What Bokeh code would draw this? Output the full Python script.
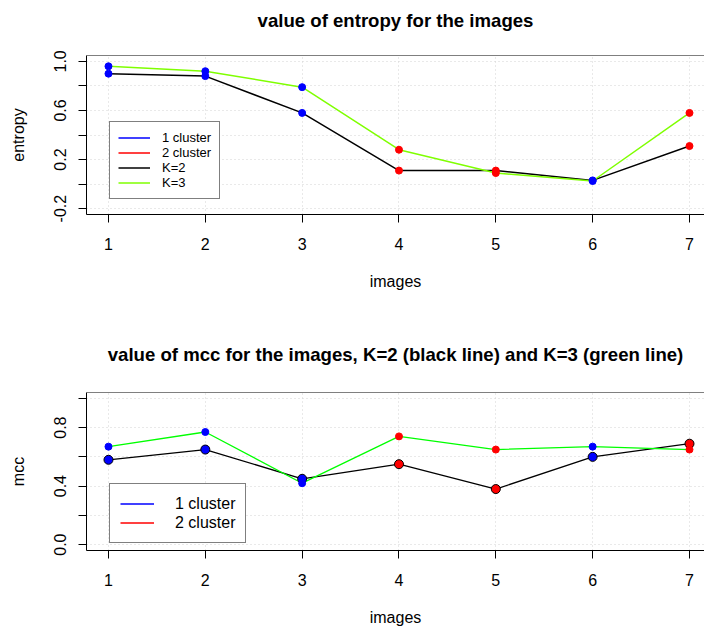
from bokeh.plotting import figure
from bokeh.layouts import column
from bokeh.models import (Range1d, FixedTicker, PrintfTickFormatter, Span,
                          Legend, LegendItem, ColumnDataSource, Title)
from bokeh.embed import file_html
from bokeh.resources import INLINE

# ---- data -------------------------------------------------------------
images = [1, 2, 3, 4, 5, 6, 7]
n_clusters = [1, 1, 1, 2, 2, 1, 2]

entropy_k2 = [0.90, 0.88, 0.58, 0.11, 0.11, 0.03, 0.31]
entropy_k3 = [0.96, 0.92, 0.79, 0.28, 0.09, 0.025, 0.58]

mcc_k2 = [0.58, 0.65, 0.45, 0.55, 0.38, 0.60, 0.69]
mcc_k3 = [0.67, 0.77, 0.42, 0.74, 0.65, 0.67, 0.65]

cluster_colors = {1: "#0000FF", 2: "#FF0000"}
point_colors = [cluster_colors[c] for c in n_clusters]

FONT = "Liberation Sans"
GRID = "#D3D3D3"
NAN = float("nan")


def style_axes(p, y_major, y_minor):
    p.xaxis.ticker = FixedTicker(ticks=images)
    p.yaxis.ticker = FixedTicker(ticks=y_major, minor_ticks=y_minor)
    p.yaxis.formatter = PrintfTickFormatter(format="%.1f")
    for ax in (p.xaxis, p.yaxis):
        ax.axis_line_color = "black"
        ax.axis_line_width = 1
        ax.major_tick_line_color = "black"
        ax.major_tick_out = 8
        ax.major_tick_in = 0
        ax.minor_tick_line_color = "black"
        ax.minor_tick_out = 8
        ax.minor_tick_in = 0
        ax.major_label_text_font = FONT
        ax.major_label_text_font_size = "16px"
        ax.major_label_text_color = "black"
        ax.axis_label_text_font = FONT
        ax.axis_label_text_font_size = "16px"
        ax.axis_label_text_font_style = "normal"
        ax.axis_label_text_color = "black"
    p.xaxis.major_label_standoff = 15
    p.xaxis.axis_label_standoff = 20
    p.yaxis.major_label_orientation = "vertical"
    p.yaxis.major_label_standoff = 12
    p.yaxis.axis_label_standoff = 25
    for g in (p.xgrid, p.ygrid):
        g.grid_line_color = GRID
        g.grid_line_dash = "1 3"
        g.grid_line_width = 1
    p.ygrid.minor_grid_line_color = GRID
    p.ygrid.minor_grid_line_dash = "1 3"
    p.outline_line_color = None
    p.add_layout(Span(location=p.y_range.end, dimension="width",
                      line_color="black", line_width=1))


def style_title(p, gap):
    p.title.align = "center"
    p.title.offset = 3
    p.title.text_font = FONT
    p.title.text_font_size = "18.6px"
    p.title.text_font_style = "bold"
    p.title.text_color = "black"
    p.title.standoff = 0
    # blank band between the main title and the plot frame
    p.add_layout(Title(text=" ", text_font_size="1px", standoff=gap), "above")


def make_legend(p, items, loc, font_size, row_h, glyph_w, standoff, pad):
    leg = Legend(items=items, location=loc, orientation="vertical",
                 label_text_font=FONT, label_text_font_size=font_size,
                 label_text_color="black",
                 label_height=row_h, glyph_height=row_h, glyph_width=glyph_w,
                 label_standoff=standoff, padding=pad, spacing=0, margin=0,
                 border_line_color="black", border_line_width=1,
                 background_fill_color="white", background_fill_alpha=1)
    p.add_layout(leg)


# ---- top panel: entropy ----------------------------------------------
p1 = figure(width=704, height=314, output_backend="svg", toolbar_location=None,
            x_range=Range1d(0.773, 7.155), y_range=Range1d(-0.248, 1.048),
            title="value of entropy for the images",
            x_axis_label="images", y_axis_label="entropy",
            min_border_left=86, min_border_right=0,
            min_border_top=55, min_border_bottom=100)
style_axes(p1, [-0.2, 0.2, 0.6, 1.0], [0.0, 0.4, 0.8])
style_title(p1, 22)

src1 = ColumnDataSource(dict(x=images, k2=entropy_k2, k3=entropy_k3,
                             c=point_colors))
l1_k2 = p1.line("x", "k2", source=src1, line_color="black", line_width=1.5)
l1_k3 = p1.line("x", "k3", source=src1, line_color="#7FFF00", line_width=1.5)
p1.scatter("x", "k2", source=src1, size=7, fill_color="c", line_color="c")
p1.scatter("x", "k3", source=src1, size=7, fill_color="c", line_color="c")
k1_blue = p1.line(x=[NAN], y=[NAN], line_color=cluster_colors[1], line_width=1.5)
k1_red = p1.line(x=[NAN], y=[NAN], line_color=cluster_colors[2], line_width=1.5)

make_legend(p1, [LegendItem(label="1 cluster", renderers=[k1_blue]),
                 LegendItem(label="2 cluster", renderers=[k1_red]),
                 LegendItem(label="K=2", renderers=[l1_k2]),
                 LegendItem(label="K=3", renderers=[l1_k3])],
            (23, 15), "13px", 15, 32, 12, 8)

# ---- bottom panel: mcc -----------------------------------------------
p2 = figure(width=704, height=314, output_backend="svg", toolbar_location=None,
            x_range=Range1d(0.773, 7.155), y_range=Range1d(-0.04, 1.04),
            title="value of mcc for the images, K=2 (black line) and K=3 (green line)",
            x_axis_label="images", y_axis_label="mcc",
            min_border_left=86, min_border_right=0,
            min_border_top=78, min_border_bottom=77)
style_axes(p2, [0.0, 0.4, 0.8], [0.2, 0.6, 1.0])
style_title(p2, 25)

src2 = ColumnDataSource(dict(x=images, k2=mcc_k2, k3=mcc_k3, c=point_colors))
p2.line("x", "k2", source=src2, line_color="black", line_width=1.3)
p2.line("x", "k3", source=src2, line_color="#00FF00", line_width=1.3)
p2.scatter("x", "k2", source=src2, size=9, fill_color="c", line_color="black",
           line_width=1)
p2.scatter("x", "k3", source=src2, size=7, fill_color="c", line_color="c")
k2_blue = p2.line(x=[NAN], y=[NAN], line_color=cluster_colors[1], line_width=1.5)
k2_red = p2.line(x=[NAN], y=[NAN], line_color=cluster_colors[2], line_width=1.5)

make_legend(p2, [LegendItem(label="1 cluster", renderers=[k2_blue]),
                 LegendItem(label="2 cluster", renderers=[k2_red])],
            (23, 7), "16px", 19, 34, 21, 10)

layout = column(p1, p2)
open("out.html", "w").write(file_html(layout, INLINE))
